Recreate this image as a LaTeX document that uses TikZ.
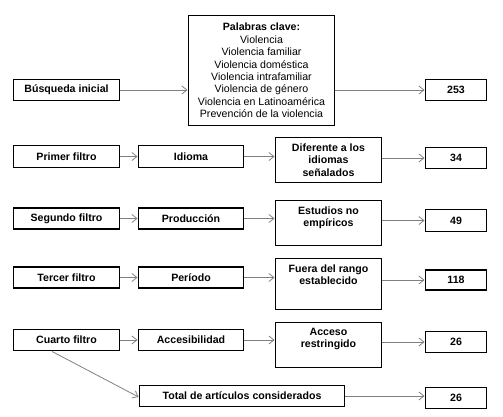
\documentclass[tikz,border=0pt]{standalone}
\usepackage{fontspec}
\setmainfont{Liberation Sans}
\usetikzlibrary{arrows.meta}
\begin{document}
\begin{tikzpicture}[x=1pt,y=-1pt,
  box/.style={draw=black,line width=1.9pt,inner sep=0pt,font=\fontsize{10.6}{12.3}\selectfont\bfseries,align=center},
  txt/.style={inner sep=0pt,font=\fontsize{10.6}{12.5}\selectfont\bfseries,align=center,anchor=north},
  conn/.style={draw=black!50,line width=0.8pt,-{Straight Barb[length=5pt,width=8pt,line width=0.8pt]}}]
\useasboundingbox (0,0) rectangle (503,417);
% row 1
\node[box,minimum width=106pt,minimum height=21pt] (bus) at (66.5,90) {Búsqueda inicial};
\node[box,minimum width=146pt,minimum height=110pt,font=\fontsize{10.6}{12.4}\selectfont] (pal) at (261.5,70.5)
  {\textbf{Palabras clave:}\\Violencia\\Violencia familiar\\Violencia doméstica\\Violencia intrafamiliar\\Violencia de género\\Violencia en Latinoamérica\\Prevención de la violencia};
\node[box,minimum width=61pt,minimum height=21pt] (n253) at (456,90) {253};
% row 2
\node[box,minimum width=106pt,minimum height=22pt] (p1) at (66.5,156.5) {Primer filtro};
\node[box,minimum width=105pt,minimum height=22pt] (idi) at (191,156.5) {Idioma};
\node[box,minimum width=106pt,minimum height=45pt] (dif) at (328.5,160) {};
\node[txt] (difT) at ([yshift=-7pt]dif.north) {Diferente a los\\idiomas\\señalados};
\node[box,minimum width=61pt,minimum height=21pt] (n34) at (456,158) {34};
% row 3
\node[box,minimum width=106pt,minimum height=21pt] (s2) at (66.5,218.5) {Segundo filtro};
\node[box,minimum width=105pt,minimum height=21pt] (pro) at (191,218.5) {Producción};
\node[box,minimum width=106pt,minimum height=45pt] (est) at (328.5,223) {};
\node[txt] (estT) at ([yshift=-7pt]est.north) {Estudios no\\empíricos};
\node[box,minimum width=61pt,minimum height=22pt] (n49) at (456,220.5) {49};
% row 4
\node[box,minimum width=106pt,minimum height=21pt] (t3) at (66.5,277.5) {Tercer filtro};
\node[box,minimum width=105pt,minimum height=21pt] (per) at (191,277.5) {Período};
\node[box,minimum width=106pt,minimum height=51pt] (fue) at (328.5,284) {};
\node[txt] (fueT) at ([yshift=-7pt]fue.north) {Fuera del rango\\establecido};
\node[box,minimum width=61pt,minimum height=20pt] (n118) at (456,280) {118};
% row 5
\node[box,minimum width=106pt,minimum height=21pt] (c4) at (66.5,340) {Cuarto filtro};
\node[box,minimum width=105pt,minimum height=21pt] (acc) at (191,340) {Accesibilidad};
\node[box,minimum width=106pt,minimum height=45pt] (ace) at (328.5,345) {};
\node[txt] (aceT) at ([yshift=-6pt]ace.north) {Acceso\\restringido};
\node[box,minimum width=61pt,minimum height=21pt] (n26a) at (456,342) {26};
% row 6
\node[box,minimum width=205pt,minimum height=21pt] (tot) at (242,396) {Total de artículos considerados};
\node[box,minimum width=61pt,minimum height=21pt] (n26b) at (456,398) {26};
% connectors
\draw[conn] (bus.east) -- (bus.east -| pal.west);
\draw[conn] (pal.east |- n253) -- (n253.west);
\draw[conn] (p1.east) -- (idi.west);
\draw[conn] (idi.east) -- (idi.east -| dif.west);
\draw[conn] (dif.east |- n34) -- (n34.west);
\draw[conn] (s2.east) -- (pro.west);
\draw[conn] (pro.east) -- (pro.east -| est.west);
\draw[conn] (est.east |- n49) -- (n49.west);
\draw[conn] (t3.east) -- (per.west);
\draw[conn] (per.east) -- (per.east -| fue.west);
\draw[conn] (fue.east |- n118) -- (n118.west);
\draw[conn] (c4.east) -- (acc.west);
\draw[conn] (acc.east) -- (acc.east -| ace.west);
\draw[conn] (ace.east |- n26a) -- (n26a.west);
\draw[conn] ([xshift=-14.5pt]c4.south) -- ([yshift=-1pt]tot.west);
\draw[conn] (tot.east) -- (tot.east -| n26b.west);
\end{tikzpicture}
\end{document}
